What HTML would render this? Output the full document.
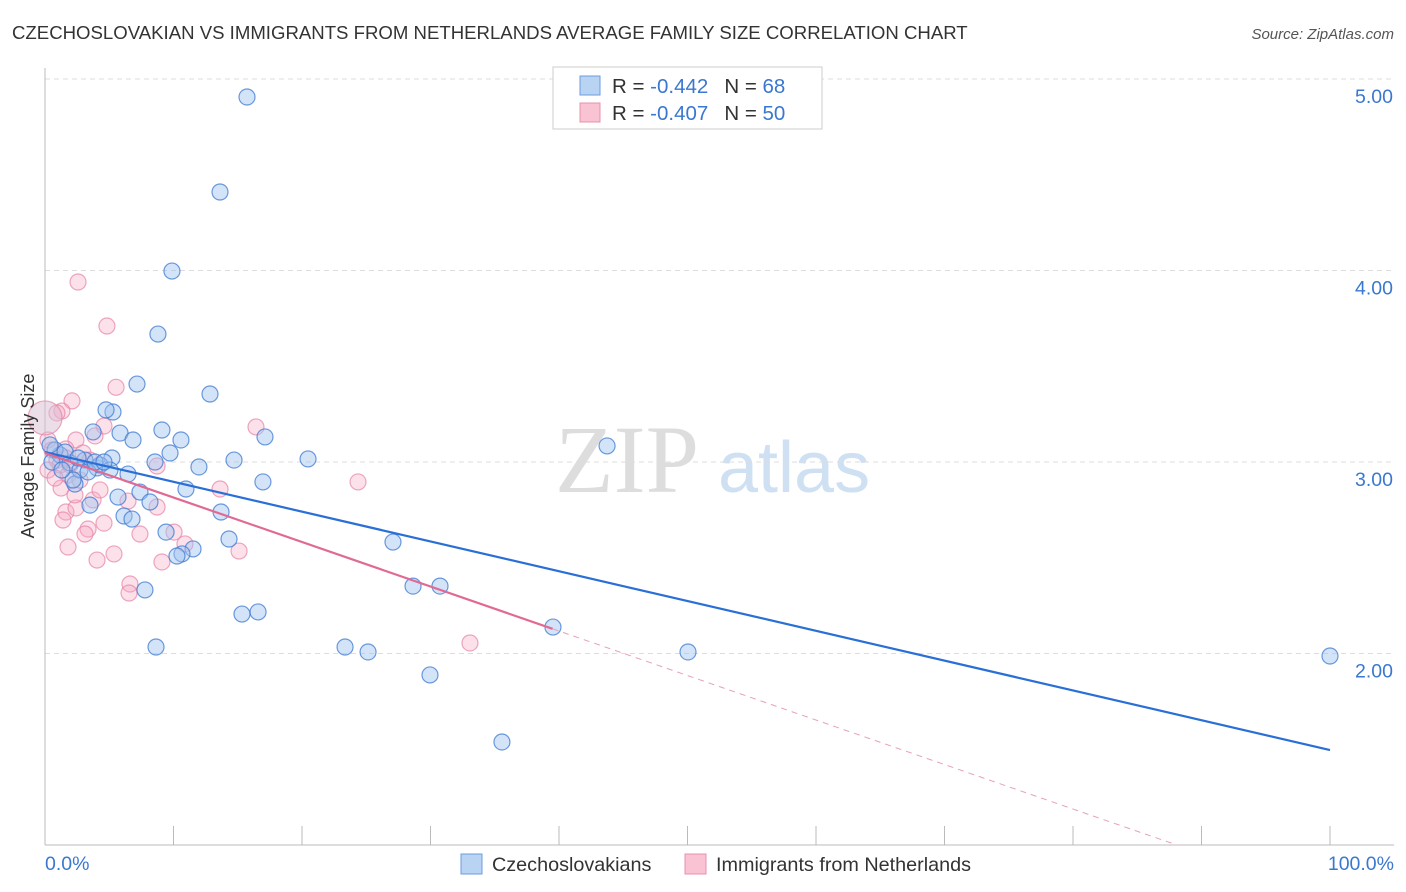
<!DOCTYPE html>
<html><head><meta charset="utf-8">
<style>
body{margin:0;background:#fff;font-family:"Liberation Sans",sans-serif;}
svg{display:block}
</style></head>
<body>
<svg id="chart" width="1406" height="892">
<text x="12" y="39" font-size="18.6" fill="#333">CZECHOSLOVAKIAN VS IMMIGRANTS FROM NETHERLANDS AVERAGE FAMILY SIZE CORRELATION CHART</text>
<text x="1394" y="39" font-size="15" fill="#555" font-style="italic" text-anchor="end">Source: ZipAtlas.com</text>
<text x="555" y="492" font-size="96" fill="#ddd" font-family="Liberation Serif">ZIP</text>
<text x="718" y="492" font-size="72" fill="#cfe0f3">atlas</text>
<g id="grid"></g>
<g id="axes"></g>
<g id="points"></g>
<g id="lines"></g>
<text transform="translate(34,456) rotate(-90)" font-size="18" fill="#333" text-anchor="middle">Average Family Size</text>
<text x="45" y="870" font-size="19.5" fill="#3a78d0">0.0%</text>
<text x="1394" y="870" font-size="19.5" fill="#3a78d0" text-anchor="end">100.0%</text>
<g>
<rect x="553" y="67" width="269" height="62" fill="#fff" stroke="#ccc"/>
<rect x="580" y="76" width="20" height="19" fill="#b9d3f3" stroke="#6b9ee0"/>
<rect x="580" y="103" width="20" height="19" fill="#f9c3d3" stroke="#e890ab"/>
<text x="612" y="93" font-size="20.5" fill="#333">R = <tspan fill="#3a78d0">-0.442</tspan><tspan dx="16">N = </tspan><tspan fill="#3a78d0">68</tspan></text>
<text x="612" y="120" font-size="20.5" fill="#333">R = <tspan fill="#3a78d0">-0.407</tspan><tspan dx="16">N = </tspan><tspan fill="#3a78d0">50</tspan></text>
</g>
<g>
<rect x="461" y="854" width="21" height="20" fill="#b9d3f3" stroke="#6b9ee0"/>
<text x="492" y="871" font-size="19.8" fill="#333">Czechoslovakians</text>
<rect x="685" y="854" width="21" height="20" fill="#f9c3d3" stroke="#e890ab"/>
<text x="716" y="871" font-size="19.8" fill="#333">Immigrants from Netherlands</text>
</g>
</svg>
<script>
const yTicks=[2,3,4,5];
const yTickLabels=["2.00","3.00","4.00","5.00"];
const xTicks=[0,10,20,30,40,50,60,70,80,90,100];
const blueX=[15.72,13.62,9.88,8.79,7.16,12.84,5.29,4.75,3.74,5.84,6.85,9.1,10.58,9.73,8.56,5.21,6.46,11.98,14.71,17.12,20.47,16.96,10.97,7.39,5.68,8.17,13.7,6.15,6.77,14.32,9.42,11.52,10.66,10.27,27.08,28.64,30.74,7.78,15.33,16.58,8.64,23.35,25.14,29.96,35.56,39.53,50.04,100,43.74,3.5,2.33,4.05,3.11,1.17,1.95,2.72,4.28,0.78,1.56,0.54,3.35,5.06,0.39,2.18,3.89,1.32,2.57,4.59];
const blueY=[4.906,4.41,3.997,3.668,3.407,3.355,3.261,3.272,3.157,3.151,3.115,3.167,3.115,3.047,3,3.021,2.937,2.974,3.01,3.131,3.016,2.896,2.859,2.843,2.817,2.791,2.739,2.718,2.702,2.598,2.634,2.546,2.52,2.509,2.582,2.352,2.352,2.332,2.206,2.217,2.034,2.034,2.008,1.888,1.538,2.138,2.008,1.987,3.084,2.775,2.885,2.969,3.01,3.037,2.995,2.958,2.984,3.063,3.052,3,2.948,2.958,3.089,2.906,3,2.958,3.021,3];
const pinkX=[2.57,4.82,5.53,2.1,1.32,0.93,4.59,2.41,3.89,2.96,1.63,0.93,0.23,0.54,1.17,1.95,3.5,8.72,16.42,13.62,24.36,1.25,1.79,3.74,6.46,1.63,2.41,4.59,3.35,3.11,7.39,10.04,8.72,1.79,4.05,5.37,10.89,15.1,9.1,6.61,6.54,33.07,0.23,0.78,2.72,1.4,0,4.28,2.33,1.63];
const pinkY=[3.94,3.71,3.39,3.319,3.266,3.256,3.188,3.115,3.136,3.047,3.068,3.01,3.115,3.063,2.984,2.984,3.01,2.979,3.183,2.859,2.896,2.864,2.932,2.802,2.796,2.739,2.76,2.681,2.65,2.624,2.624,2.634,2.765,2.556,2.488,2.52,2.572,2.535,2.478,2.363,2.316,2.055,2.958,2.916,2.906,2.697,3.23,2.854,2.828,3.021];
const blueFit=[3.052,1.496];
const pinkFit=[3.047,0.723];
const pinkSolidEnd=39.5;
const NS="http://www.w3.org/2000/svg";
const X=p=>45+p*12.85;
const Y=v=>462-(v-3)*191.5;
function mk(t,a,parent){const e=document.createElementNS(NS,t);for(const k in a)e.setAttribute(k,a[k]);parent.appendChild(e);return e;}
const grid=document.getElementById('grid'),axes=document.getElementById('axes'),pts=document.getElementById('points'),lines=document.getElementById('lines');
yTicks.forEach((v,i)=>{
 const l=mk('line',{x1:45,x2:1394,y1:Y(v),y2:Y(v),stroke:'#ddd','stroke-dasharray':'5,4'},grid);
 
 
 const t=mk('text',{x:1393,y:Y(v)+24,'font-size':19.5,fill:'#3a78d0','text-anchor':'end'},grid);
 t.textContent=yTickLabels[i];
 
 
});
const ya=mk('line',{x1:45,x2:45,y1:68,y2:845,stroke:'#bbb'},axes);


const xa=mk('line',{x1:45,x2:1394,y1:845,y2:845,stroke:'#bbb'},axes);


xTicks.forEach(p=>{
 const t=mk('line',{x1:X(p),x2:X(p),y1:826,y2:845,stroke:'#bbb'},axes);
 
 
});
pinkX.forEach((x,i)=>{
 const c=mk('circle',{cx:X(x),cy:Y(pinkY[i]),r:i===46?17:8,fill:i===46?'rgba(215,190,210,0.5)':'rgba(246,170,196,0.35)',stroke:'rgba(230,130,165,0.7)','stroke-width':1.2},pts);
 
 
});
blueX.forEach((x,i)=>{
 const c=mk('circle',{cx:X(x),cy:Y(blueY[i]),r:8,fill:'rgba(160,195,240,0.45)',stroke:'rgba(60,120,210,0.75)','stroke-width':1.2},pts);
 
 
});
const bl=mk('line',{x1:X(0),y1:Y(blueFit[0]),x2:X(100),y2:Y(blueFit[1]),stroke:'#2a6fd6','stroke-width':2.2},lines);


const pv=p=>pinkFit[0]+(pinkFit[1]-pinkFit[0])*p/100;
const pl=mk('line',{x1:X(0),y1:Y(pinkFit[0]),x2:X(pinkSolidEnd),y2:Y(pv(pinkSolidEnd)),stroke:'#e06a94','stroke-width':2.2},lines);


const pEnd=(pinkFit[0]-1)/(pinkFit[0]-pinkFit[1])*100;
const pd=mk('line',{x1:X(pinkSolidEnd),y1:Y(pv(pinkSolidEnd)),x2:X(pEnd),y2:Y(pv(pEnd)),stroke:'#e8a0b8','stroke-width':1,'stroke-dasharray':'6,5'},lines);


</script>
</body></html>
